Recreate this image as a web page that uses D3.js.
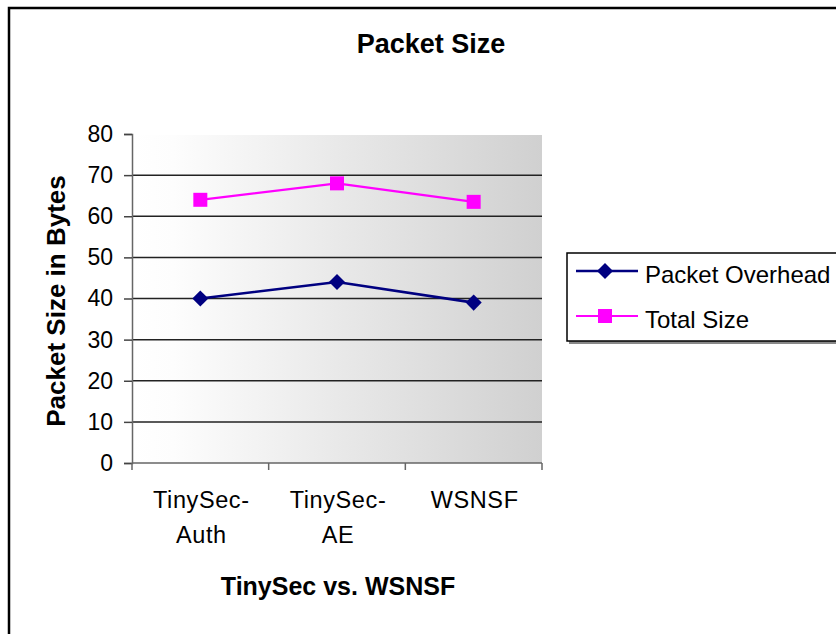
<!DOCTYPE html>
<html><head><meta charset="utf-8">
<script src="https://cdn.jsdelivr.net/npm/d3@7"></script>
<style>body{margin:0;background:#fff}svg{display:block;font-family:Arial,"Liberation Sans",sans-serif}</style>
</head><body>
<svg id="c" width="836" height="634"></svg>
<script>
const categories = [["TinySec-","Auth"],["TinySec-","AE"],["WSNSF"]];
const packetOverhead = [40, 44, 39];
const totalSize = [64, 68, 63.5];
const yTicks = [0,10,20,30,40,50,60,70,80];
const seriesNames = ["Packet Overhead","Total Size"];

const svg = d3.select("#c");
const defs = svg.append("defs");
const grad = defs.append("linearGradient").attr("id","bg").attr("x1","0").attr("x2","1").attr("y1","0").attr("y2","0");
grad.append("stop").attr("offset","0").attr("stop-color","#ffffff");
grad.append("stop").attr("offset","0.1").attr("stop-color","#fdfdfd");
grad.append("stop").attr("offset","1").attr("stop-color","#d0d0d0");

// outer border
svg.append("rect").attr("x",9).attr("y",8).attr("width",840).attr("height",640)
  .attr("fill","#fff").attr("stroke","#000").attr("stroke-width",2.5);

const L=132,R=542,T=134,B=463;
const x = d3.scaleBand().domain(d3.range(categories.length)).range([L,R]);
const y = d3.scaleLinear().domain([0,80]).range([B,T]);

svg.append("rect").attr("x",L).attr("y",y(80)+1).attr("width",R-L).attr("height",B-y(80)-1).attr("fill","url(#bg)");

// gridlines
svg.append("g").selectAll("line").data(yTicks.filter(d=>d>0&&d<80)).join("line")
  .attr("x1",L).attr("x2",R).attr("y1",d=>y(d)).attr("y2",d=>y(d))
  .attr("stroke","#222").attr("stroke-width",1.5);

// y axis
const ya = svg.append("g").attr("transform",`translate(${L},0)`)
  .call(d3.axisLeft(y).tickValues(yTicks).tickSize(8).tickPadding(11));
ya.select(".domain").attr("stroke","#666").attr("stroke-width",1.5);
ya.selectAll(".tick line").attr("stroke","#444").attr("stroke-width",1.5);
ya.selectAll(".tick text").attr("font-size",23).attr("font-family","Arial, 'Liberation Sans', sans-serif").attr("fill","#000");

// x axis
const xa = svg.append("g").attr("transform",`translate(0,${B})`);
xa.append("line").attr("x1",L).attr("x2",R).attr("y1",0).attr("y2",0).attr("stroke","#666").attr("stroke-width",1.5);
const bounds = d3.range(categories.length+1).map(i=> i<categories.length ? x(i) : x(i-1)+x.bandwidth());
xa.selectAll("line.tk").data(bounds).join("line").attr("class","tk")
  .attr("x1",d=>d).attr("x2",d=>d).attr("y1",0).attr("y2",7).attr("stroke","#666").attr("stroke-width",1.5);
const cl = svg.append("g").selectAll("text").data(categories).join("text")
  .attr("x",(d,i)=>x(i)+x.bandwidth()/2+1).attr("y",508)
  .attr("text-anchor","middle").attr("font-size",23.5).attr("letter-spacing",0.6).attr("fill","#000");
cl.each(function(d){
  const t=d3.select(this);
  d.forEach((s,j)=>t.append("tspan").attr("x",t.attr("x")).attr("dy",j?35:0).text(s));
});

// lines
const line = d3.line().x((d,i)=>x(i)+x.bandwidth()/2).y(d=>y(d));
svg.append("path").datum(totalSize).attr("d",line).attr("fill","none").attr("stroke","#ff00ff").attr("stroke-width",2.2);
svg.append("path").datum(packetOverhead).attr("d",line).attr("fill","none").attr("stroke","#000080").attr("stroke-width",2.6);
svg.append("g").selectAll("rect").data(totalSize).join("rect")
  .attr("x",(d,i)=>x(i)+x.bandwidth()/2-7).attr("y",d=>y(d)-7).attr("width",14).attr("height",14).attr("fill","#ff00ff");
const diamond = d3.symbol().type(d3.symbolDiamond2).size(165);
svg.append("g").selectAll("path").data(packetOverhead).join("path")
  .attr("transform",(d,i)=>`translate(${x(i)+x.bandwidth()/2},${y(d)})`).attr("d",diamond).attr("fill","#000080");

// titles
svg.append("text").attr("x",431).attr("y",53).attr("text-anchor","middle").attr("font-size",27).attr("font-weight","bold").text("Packet Size");
svg.append("text").attr("transform","translate(65,301) rotate(-90)").attr("text-anchor","middle").attr("font-size",26).attr("font-weight","bold").text("Packet Size in Bytes");
svg.append("text").attr("x",338).attr("y",595).attr("text-anchor","middle").attr("font-size",25).attr("font-weight","bold").text("TinySec vs. WSNSF");

// legend
const lg = svg.append("g");
lg.append("rect").attr("x",569).attr("y",256).attr("width",300).attr("height",88).attr("fill","#888");
lg.append("rect").attr("x",567).attr("y",253).attr("width",300).attr("height",88).attr("fill","#fff").attr("stroke","#000").attr("stroke-width",1.5);
const ly = [271, 316];
const colors = ["#000080","#ff00ff"];
seriesNames.forEach((n,i)=>{
  lg.append("line").attr("x1",576).attr("x2",638).attr("y1",ly[i]).attr("y2",ly[i]).attr("stroke",colors[i]).attr("stroke-width",i?2.2:2.6);
  if(i===0) lg.append("path").attr("transform",`translate(605,${ly[i]})`).attr("d",diamond).attr("fill",colors[i]);
  else lg.append("rect").attr("x",605-7).attr("y",ly[i]-7).attr("width",14).attr("height",14).attr("fill",colors[i]);
  lg.append("text").attr("x",645).attr("y",ly[i]+12).attr("font-size",24).attr("fill","#000").text(n);
});
</script>
</body></html>
